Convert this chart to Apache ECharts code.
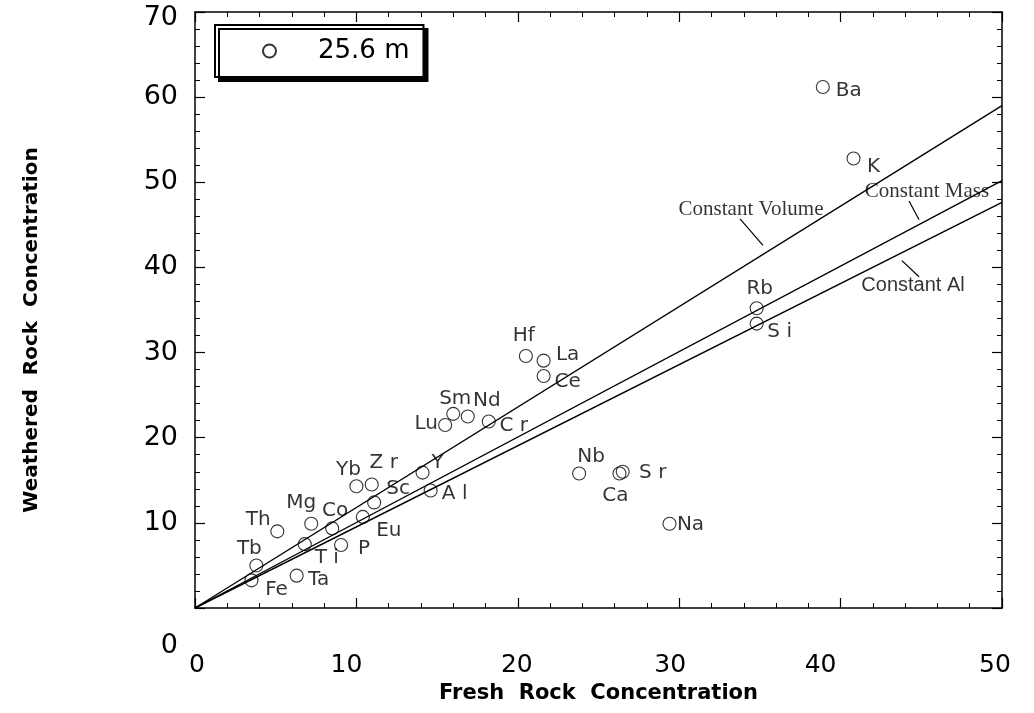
<!DOCTYPE html>
<html>
<head>
<meta charset="utf-8">
<script src="https://cdn.jsdelivr.net/npm/echarts@6/dist/echarts.min.js"></script>
<style>
html,body{margin:0;padding:0;background:#fff;}
#chart{width:1034px;height:713px;}
</style>
</head>
<body>
<div id="chart"></div>
<script>
// ---- data ----
const elements = ['Ba','K','Rb','S i','Hf','La','Ce','Sm','Nd','Lu','C r','Y','A l','Nb','S r','Ca','Na','Yb','Z r','Sc','Eu','Co','Mg','Th','T i','P','Tb','Fe','Ta'];
const freshRock = [38.9,40.8,34.8,34.8,20.5,21.6,21.6,16.0,16.9,15.5,18.2,14.1,14.6,23.8,26.5,26.3,29.4,10.0,10.95,11.1,10.4,8.5,7.2,5.1,6.8,9.05,3.8,3.5,6.3];
const weatheredRock = [61.2,52.8,35.2,33.4,29.6,29.05,27.25,22.8,22.5,21.5,21.9,15.9,13.8,15.8,16.0,15.8,9.9,14.3,14.5,12.4,10.7,9.35,9.9,9.0,7.5,7.4,5.0,3.25,3.8];
const lineNames = ['Constant Volume','Constant Mass','Constant Al'];
const lineEnds = [[50,59.0],[50,50.2],[50,47.65]];
const xTicks = [0,10,20,30,40,50];
const yTicks = [0,10,20,30,40,50,60,70];
const seriesName = '25.6 m';

// ---- layout (label placement, not data) ----
const labelOffsets = {
  'Ba':[26,4],'K':[20,8],'Rb':[3,-20],'S i':[23,8],'Hf':[-2,-20],'La':[24,-6],'Ce':[24,6],
  'Sm':[2,-15],'Nd':[19,-16],'Lu':[-19,-1],'C r':[25,4],'Y':[15,-10],'A l':[24,3],
  'Nb':[12,-17],'S r':[30,1],'Ca':[-4,22],'Na':[21,1],'Yb':[-8,-16],'Z r':[12,-22],
  'Sc':[24,-14],'Eu':[26,14],'Co':[3,-18],'Mg':[-10,-21],'Th':[-19,-12],'T i':[22,14],
  'P':[23,4],'Tb':[-7,-17],'Fe':[25,9],'Ta':[22,4]
};
// annotation text anchors and leader lines (in data coordinates)
const annotText = [[34.45,46.8],[45.35,48.9],[44.49,37.9]];
const annotLeaders = [[[33.77,45.7],[35.19,42.6]],[[44.24,47.8],[44.86,45.6]],[[43.8,40.8],[44.86,38.9]]];
const annotFonts = ['Liberation Serif','Liberation Serif','Liberation Sans'];
const annotSizes = [21,21,20];
const xLabelShift = {0:2,10:-10,20:-1,30:-9,40:-20,50:-7};
const yLabelShift = {0:38,70:6};

const chart = echarts.init(document.getElementById('chart'));

const pointData = elements.map((n,i)=>({
  name:n, value:[freshRock[i], weatheredRock[i]],
  label:{offset: labelOffsets[n] || [0,0]}
}));

const xRich = {};
xTicks.forEach(v=>{
  const s = xLabelShift[v]||0;
  xRich['s'+v] = {fontFamily:'DejaVu Sans', fontSize:25, color:'#000',
    padding: s<0 ? [0,-2*s,0,0] : [0,0,0,2*s]};
});
const yRich = {};
yTicks.forEach(v=>{
  const s = yLabelShift[v]||0;
  yRich['s'+v] = {fontFamily:'DejaVu Sans', fontSize:27, color:'#000', padding:[2*s,0,0,0]};
});

const series = [];
lineNames.forEach((ln,i)=>{
  series.push({
    type:'line', name:ln, data:[[0,0], lineEnds[i]], symbol:'none',
    lineStyle:{color:'#000', width:1.4}, silent:true, z:2
  });
  series.push({
    type:'line', name:ln+' leader', data:annotLeaders[i], symbol:'none',
    lineStyle:{color:'#000', width:1.2}, silent:true, z:2
  });
  series.push({
    type:'scatter', name:ln+' label', data:[{name:ln, value:annotText[i]}],
    symbolSize:0, silent:true, z:3,
    label:{show:true, position:'inside', formatter:'{b}', color:'#000',
      fontFamily:annotFonts[i], fontSize:annotSizes[i]}
  });
});
series.push({
  type:'scatter', name:seriesName, data:pointData, symbol:'circle', symbolSize:13,
  itemStyle:{color:'rgba(0,0,0,0)', borderColor:'#000', borderWidth:1.1}, z:4,
  label:{show:true, position:'inside', formatter:'{b}', color:'#000',
    fontFamily:'DejaVu Sans', fontSize:20}
});

const tickCommon = {
  axisLine:{show:true, onZero:false, lineStyle:{color:'#000', width:1.5}},
  axisTick:{show:true, inside:true, length:10, lineStyle:{color:'#000', width:1.2}},
  minorTick:{show:true, splitNumber:5, length:5, lineStyle:{color:'#000', width:1}},
  splitLine:{show:false}
};

chart.setOption({
  backgroundColor:'#fff',
  animation:false,
  grid:{left:195, right:32, top:12, bottom:105},
  legend:{
    data:[seriesName], left:215, top:25, orient:'horizontal',
    backgroundColor:'#fff', borderColor:'#000', borderWidth:2,
    shadowColor:'#000', shadowBlur:0, shadowOffsetX:4, shadowOffsetY:4,
    padding:[13,14,13,47], itemWidth:13, itemHeight:13,
    textStyle:{fontFamily:'DejaVu Sans', fontSize:26, color:'#000', padding:[0,0,0,37]}
  },
  xAxis:[
    Object.assign({type:'value', min:0, max:50, interval:10, position:'bottom',
      name:'Fresh  Rock  Concentration', nameLocation:'middle', nameGap:75,
      nameTextStyle:{fontFamily:'DejaVu Sans', fontWeight:'bold', fontSize:21, color:'#000', verticalAlign:'top'},
      axisLabel:{margin:45, rich:xRich, formatter:v=>'{s'+v+'|'+v+'}'}}, tickCommon),
    Object.assign({type:'value', min:0, max:50, interval:10, position:'top',
      axisLabel:{show:false}}, tickCommon)
  ],
  yAxis:[
    Object.assign({type:'value', min:0, max:70, interval:10, position:'left',
      name:'Weathered  Rock  Concentration', nameLocation:'middle', nameGap:153, nameRotate:90,
      nameTextStyle:{fontFamily:'DejaVu Sans', fontWeight:'bold', fontSize:20, color:'#000', padding:[0,40,0,0]},
      axisLabel:{margin:17, rich:yRich, formatter:v=>'{s'+v+'|'+v+'}'}}, tickCommon),
    Object.assign({type:'value', min:0, max:70, interval:10, position:'right',
      axisLabel:{show:false}}, tickCommon)
  ],
  series: series
});
</script>
</body>
</html>
